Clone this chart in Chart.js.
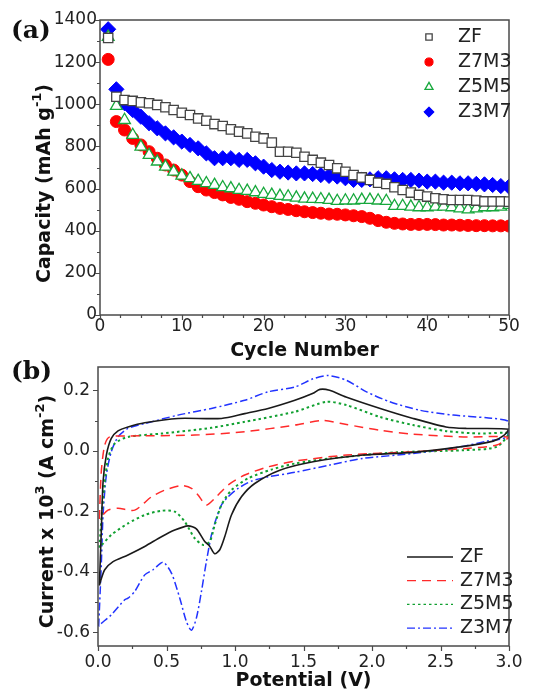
<!DOCTYPE html>
<html>
<head>
<meta charset="utf-8">
<title>Capacity and CV curves</title>
<script src="https://cdn.jsdelivr.net/npm/chart.js@4.4.1/dist/chart.umd.min.js"></script>
<style>
  html, body { margin: 0; padding: 0; background: #fff; }
  #wrap { position: relative; width: 533px; height: 693px; overflow: hidden; }
  canvas { position: absolute; left: 0; }
  #capacityChart { top: 0; }
  #cvChart { top: 355px; }
</style>
</head>
<body>
<div id="wrap">
  <canvas id="capacityChart" width="533" height="365"></canvas>
  <canvas id="cvChart" width="533" height="338"></canvas>
</div>
<script>
// ---- (a) discharge capacity vs cycle number ----
const cycles = [
  1, 2, 3, 4, 5, 6, 7, 8, 9, 10, 11, 12, 13, 14, 15, 16, 17, 18, 19, 20,
  21, 22, 23, 24, 25, 26, 27, 28, 29, 30, 31, 32, 33, 34, 35, 36, 37, 38, 39, 40,
  41, 42, 43, 44, 45, 46, 47, 48, 49, 50,
];
const zfCapacity = [
  1315, 1036, 1020, 1016, 1009, 1005, 997, 986, 973, 960,
  949, 933, 922, 906, 897, 881, 870, 862, 846, 838,
  818, 775, 775, 770, 751, 736, 723, 712, 696, 680,
  664, 653, 641, 628, 622, 606, 593, 581, 570, 562,
  554, 549, 546, 546, 546, 543, 539, 539, 539, 538,
];
const z7m3Capacity = [
  1213, 918, 878, 838, 807, 775, 744, 712, 688, 664,
  633, 609, 593, 581, 570, 558, 549, 538, 530, 522,
  514, 506, 501, 495, 490, 486, 483, 479, 478, 475,
  471, 467, 459, 448, 440, 435, 432, 430, 430, 430,
  429, 427, 427, 426, 425, 424, 424, 423, 423, 422,
];
const z5m5Capacity = [
  1320, 992, 925, 854, 799, 759, 728, 704, 680, 661,
  649, 636, 625, 617, 606, 601, 593, 589, 582, 574,
  570, 565, 562, 557, 552, 551, 549, 546, 541, 543,
  543, 546, 546, 543, 541, 517, 517, 514, 511, 511,
  514, 514, 511, 506, 501, 506, 511, 511, 514, 522,
];
const z3m7Capacity = [
  1356, 1071, 1005, 973, 941, 910, 886, 862, 843, 823,
  807, 791, 767, 744, 744, 744, 736, 736, 720, 704,
  688, 680, 676, 672, 672, 669, 664, 660, 657, 649,
  641, 641, 644, 649, 649, 644, 641, 641, 638, 633,
  633, 628, 628, 625, 625, 622, 620, 617, 612, 609,
];

// ---- (b) cyclic voltammograms: potential (V) and current, one closed loop each ----
const zfPotential = [
  0.01, 0.024, 0.037, 0.061, 0.097, 0.146, 0.219, 0.341, 0.584, 0.901, 1.071, 1.242,
  1.437, 1.57, 1.62, 1.69, 1.81, 2.06, 2.3, 2.54, 2.69, 3.0,
  2.96, 2.885, 2.642, 2.3, 1.936, 1.57, 1.327, 1.144, 1.047, 0.974, 0.925, 0.889,
  0.852, 0.815, 0.779, 0.718, 0.657, 0.56, 0.463, 0.341, 0.219, 0.11, 0.049, 0.019, 0.01,
];
const zfCurrent = [
  -0.445, -0.267, -0.102, -0.014, 0.041, 0.066, 0.079, 0.093, 0.107, 0.107, 0.123, 0.14,
  0.167, 0.19, 0.203, 0.2, 0.178, 0.14, 0.107, 0.079, 0.074, 0.071,
  0.05, 0.032, 0.013, -0.005, -0.014, -0.036, -0.064, -0.108, -0.152, -0.212, -0.284, -0.327,
  -0.34, -0.315, -0.3, -0.258, -0.248, -0.262, -0.284, -0.316, -0.344, -0.366, -0.393, -0.43, -0.445,
];
const z7m3Potential = [
  0.01, 0.024, 0.049, 0.085, 0.219, 0.706, 1.071, 1.437, 1.643, 1.814, 2.057, 2.3, 2.666, 3.0,
  2.91, 2.69, 2.3, 1.814, 1.437, 1.242, 1.071, 0.95, 0.852, 0.791, 0.73, 0.682, 0.609,
  0.487, 0.39, 0.268, 0.146, 0.073, 0.01,
];
const z7m3Current = [
  -0.225, -0.069, 0.019, 0.046, 0.049, 0.052, 0.063, 0.085, 0.1, 0.087, 0.068, 0.055, 0.046, 0.045,
  0.019, 0.008, -0.003, -0.014, -0.034, -0.053, -0.08, -0.113, -0.157, -0.179, -0.146, -0.124, -0.115,
  -0.13, -0.152, -0.196, -0.19, -0.196, -0.225,
];
const z5m5Potential = [
  0.01, 0.037, 0.073, 0.122, 0.219, 0.463, 0.828, 1.071, 1.437, 1.668, 1.814, 2.057, 2.3, 2.544,
  2.788, 3.0, 2.91, 2.666, 2.18, 1.692, 1.437, 1.266, 1.096, 0.974, 0.901, 0.852, 0.816, 0.767,
  0.706, 0.633, 0.56, 0.463, 0.341, 0.219, 0.097, 0.01,
];
const z5m5Current = [
  -0.32, -0.157, -0.025, 0.024, 0.046, 0.057, 0.076, 0.096, 0.129, 0.162, 0.151, 0.112, 0.085, 0.065,
  0.057, 0.057, 0.013, 0.002, -0.005, -0.025, -0.042, -0.062, -0.091, -0.13, -0.179, -0.245, -0.3, -0.311,
  -0.289, -0.234, -0.201, -0.198, -0.212, -0.24, -0.278, -0.32,
];
const z3m7Potential = [
  0.005, 0.024, 0.037, 0.061, 0.097, 0.146, 0.219, 0.341, 0.584, 0.828, 1.071, 1.242, 1.437,
  1.57, 1.68, 1.814, 1.96, 2.13, 2.35, 2.593, 2.837, 3.0,
  2.983, 2.837, 2.642, 2.3, 1.936, 1.692, 1.437, 1.242, 1.12, 1.023, 0.95, 0.901, 0.864,
  0.828, 0.791, 0.755, 0.718, 0.682, 0.645, 0.597, 0.536, 0.475, 0.402, 0.341, 0.268, 0.219,
  0.195, 0.097, 0.012, 0.005,
];
const z3m7Current = [
  -0.58, -0.377, -0.212, -0.08, -0.003, 0.046, 0.074, 0.09, 0.118, 0.14, 0.167, 0.195, 0.211,
  0.238, 0.249, 0.233, 0.195, 0.162, 0.134, 0.118, 0.109, 0.096,
  0.046, 0.032, 0.013, -0.009, -0.025, -0.047, -0.071, -0.086, -0.1, -0.124, -0.152, -0.179, -0.223,
  -0.278, -0.366, -0.465, -0.553, -0.593, -0.564, -0.487, -0.404, -0.368, -0.393, -0.41, -0.465, -0.487,
  -0.492, -0.542, -0.575, -0.58,
];

const SANS = "'DejaVu Sans', 'Liberation Sans', sans-serif";
const SERIF = "'DejaVu Serif', 'Liberation Serif', serif";
const INK = "#222";
const FRAME = "#4a4a4a";

function toPoints(xs, ys) {
  return xs.map((x, i) => ({ x: x, y: ys[i] }));
}

// Box around the plot area plus outward major/minor ticks on bottom and left
const frameTicks = {
  id: "frameTicks",
  afterDatasetsDraw(chart, args, opts) {
    const { ctx, chartArea: a, scales } = chart;
    ctx.save();
    ctx.strokeStyle = FRAME;
    ctx.lineWidth = 1.5;
    ctx.strokeRect(a.left, a.top, a.right - a.left, a.bottom - a.top);
    ctx.beginPath();
    tickMarks(scales.x, opts.minorX).forEach(([v, major]) => {
      const px = Math.round(scales.x.getPixelForValue(v)) + 0.5;
      ctx.moveTo(px, a.bottom);
      ctx.lineTo(px, a.bottom + (major ? 5 : 3));
    });
    tickMarks(scales.y, opts.minorY).forEach(([v, major]) => {
      const py = Math.round(scales.y.getPixelForValue(v)) + 0.5;
      ctx.moveTo(a.left, py);
      ctx.lineTo(a.left - (major ? 5 : 3), py);
    });
    ctx.lineWidth = 1.2;
    ctx.stroke();
    ctx.restore();
  },
};

function tickMarks(scale, minorStep) {
  const majorStep = scale.options.ticks.stepSize;
  const out = [];
  const k0 = Math.ceil(scale.min / minorStep - 1e-6);
  const k1 = Math.floor(scale.max / minorStep + 1e-6);
  for (let k = k0; k <= k1; k++) {
    const v = k * minorStep;
    const r = v / majorStep;
    out.push([v, Math.abs(r - Math.round(r)) < 1e-6]);
  }
  return out;
}

// Legend drawn inside the plot area (markers or line samples)
const insetLegend = {
  id: "insetLegend",
  afterDraw(chart, args, opts) {
    const { ctx, chartArea: a } = chart;
    ctx.save();
    chart.data.datasets.forEach((ds, i) => {
      const y = a.top + opts.top + i * opts.rowHeight;
      if (opts.kind === "marker") {
        ctx.fillStyle = ds.pointBackgroundColor;
        ctx.strokeStyle = ds.pointBorderColor;
        ctx.lineWidth = ds.pointBorderWidth;
        Chart.helpers.drawPoint(
          ctx,
          {
            pointStyle: ds.pointStyle,
            radius: ds.pointRadius * opts.markerScale,
            borderWidth: ds.pointBorderWidth,
            rotation: 0,
          },
          a.right - opts.sampleRight,
          y
        );
      } else {
        ctx.strokeStyle = ds.borderColor;
        ctx.lineWidth = 1.3;
        ctx.setLineDash(ds.borderDash || []);
        ctx.beginPath();
        ctx.moveTo(a.right - opts.sampleRight, y);
        ctx.lineTo(a.right - opts.sampleRight + opts.sampleLength, y);
        ctx.stroke();
        ctx.setLineDash([]);
      }
      ctx.fillStyle = INK;
      ctx.font = `19px ${SANS}`;
      ctx.textAlign = "left";
      ctx.textBaseline = "middle";
      ctx.fillText(ds.label, a.right - opts.textRight, y);
    });
    ctx.restore();
  },
};

// Rotated y-axis caption with superscripts, and the panel tag
const panelText = {
  id: "panelText",
  afterDraw(chart, args, opts) {
    const { ctx, chartArea: a } = chart;
    const base = `bold 19px ${SANS}`;
    const sup = `bold 13px ${SANS}`;
    ctx.save();
    ctx.fillStyle = "#111";
    ctx.textBaseline = "middle";
    ctx.textAlign = "left";
    let total = 0;
    opts.caption.forEach((p) => {
      ctx.font = p.sup ? sup : base;
      total += ctx.measureText(p.text).width;
    });
    ctx.translate(opts.captionX, (a.top + a.bottom) / 2 + opts.captionShift);
    ctx.rotate(-Math.PI / 2);
    let cx = -total / 2;
    opts.caption.forEach((p) => {
      ctx.font = p.sup ? sup : base;
      ctx.fillText(p.text, cx, p.sup ? -7 : 0);
      cx += ctx.measureText(p.text).width;
    });
    ctx.restore();

    ctx.save();
    ctx.fillStyle = "#111";
    ctx.font = `bold 25px ${SERIF}`;
    ctx.textBaseline = "alphabetic";
    ctx.fillText(opts.tag, opts.tagX, opts.tagY);
    ctx.restore();
  },
};

function fixedAxis(size, vertical) {
  return function (scale) {
    if (vertical) {
      scale.width = size;
      scale.paddingTop = 0;
      scale.paddingBottom = 0;
    } else {
      scale.height = size;
      scale.paddingLeft = 0;
      scale.paddingRight = 0;
    }
  };
}

const tickFont = { family: SANS, size: 17 };
const titleFont = { family: SANS, size: 19, weight: "bold" };

function createCapacityChart(canvasId) {
  const ctx = document.getElementById(canvasId);
  const series = [
    { label: "ZF", data: zfCapacity, style: "rect", r: 6.6, fill: "#fff", line: "#444", bw: 1.3, order: 0 },
    { label: "Z7M3", data: z7m3Capacity, style: "circle", r: 6, fill: "#ff0000", line: "#ff0000", bw: 1, order: 2 },
    { label: "Z5M5", data: z5m5Capacity, style: "triangle", r: 6.8, fill: "#fff", line: "#17a83c", bw: 1.3, order: 1 },
    { label: "Z3M7", data: z3m7Capacity, style: "rectRot", r: 7.6, fill: "#0000ff", line: "#0000ff", bw: 1, order: 3 },
  ];

  return new Chart(ctx, {
    type: "scatter",
    data: {
      datasets: series.map((s) => ({
        label: s.label,
        data: toPoints(cycles, s.data),
        pointStyle: s.style,
        pointRadius: s.r,
        pointHoverRadius: s.r,
        pointBackgroundColor: s.fill,
        pointBorderColor: s.line,
        pointBorderWidth: s.bw,
        order: s.order,
        clip: 0,
      })),
    },
    options: {
      responsive: false,
      animation: false,
      devicePixelRatio: 1,
      layout: { padding: { top: 20, right: 24, left: 0, bottom: 0 } },
      plugins: {
        legend: { display: false },
        tooltip: { enabled: false },
        frameTicks: { minorX: 2.5, minorY: 100 },
        insetLegend: { kind: "marker", top: 17, rowHeight: 25, sampleRight: 80, textRight: 51, markerScale: 0.68 },
        panelText: {
          caption: [{ text: "Capacity (mAh g" }, { text: "-1", sup: true }, { text: ")" }],
          captionX: 45,
          captionShift: 16,
          tag: "(a)",
          tagX: 11,
          tagY: 38,
        },
      },
      scales: {
        x: {
          type: "linear",
          min: 0,
          max: 50,
          grid: { display: false, drawTicks: false },
          border: { display: false },
          ticks: { stepSize: 10, font: tickFont, color: INK, padding: 1, maxRotation: 0, callback: (v) => String(v) },
          title: { display: true, text: "Cycle Number", font: titleFont, color: "#111", padding: { top: 0, bottom: 3 } },
          afterFit: fixedAxis(50, false),
        },
        y: {
          min: 0,
          max: 1400,
          grid: { display: false, drawTicks: false },
          border: { display: false },
          ticks: { stepSize: 200, font: tickFont, color: INK, padding: 3, callback: (v) => String(v) },
          afterFit: fixedAxis(100, true),
        },
      },
    },
    plugins: [frameTicks, insetLegend, panelText],
  });
}

function createCvChart(canvasId) {
  const ctx = document.getElementById(canvasId);
  const series = [
    { label: "ZF", x: zfPotential, y: zfCurrent, color: "#1a1a1a", dash: [], width: 1.6 },
    { label: "Z7M3", x: z7m3Potential, y: z7m3Current, color: "#ff2a2a", dash: [9, 6], width: 1.5 },
    { label: "Z5M5", x: z5m5Potential, y: z5m5Current, color: "#10a030", dash: [2.5, 3], width: 2 },
    { label: "Z3M7", x: z3m7Potential, y: z3m7Current, color: "#2233ff", dash: [8, 3, 2, 3], width: 1.5 },
  ];

  return new Chart(ctx, {
    type: "scatter",
    data: {
      datasets: series.map((s) => ({
        label: s.label,
        data: toPoints(s.x, s.y),
        showLine: true,
        borderColor: s.color,
        borderDash: s.dash,
        borderWidth: s.width,
        pointRadius: 0,
        pointHoverRadius: 0,
        tension: 0.25,
        fill: false,
        clip: 0,
      })),
    },
    options: {
      responsive: false,
      animation: false,
      devicePixelRatio: 1,
      layout: { padding: { top: 12, right: 24, left: 0, bottom: 0 } },
      plugins: {
        legend: { display: false },
        tooltip: { enabled: false },
        frameTicks: { minorX: 0.25, minorY: 0.1 },
        insetLegend: { kind: "line", top: 190, rowHeight: 23.7, sampleRight: 102, sampleLength: 46, textRight: 49 },
        panelText: {
          caption: [
            { text: "Current x 10" },
            { text: "3", sup: true },
            { text: " (A cm" },
            { text: "-2", sup: true },
            { text: ")" },
          ],
          captionX: 48,
          captionShift: 5,
          tag: "(b)",
          tagX: 11,
          tagY: 24,
        },
      },
      scales: {
        x: {
          type: "linear",
          min: 0,
          max: 3,
          grid: { display: false, drawTicks: false },
          border: { display: false },
          ticks: {
            stepSize: 0.5,
            font: tickFont,
            color: INK,
            padding: 6,
            maxRotation: 0,
            callback: (v) => v.toFixed(1),
          },
          title: { display: true, text: "Potential (V)", font: titleFont, color: "#111", padding: { top: 0, bottom: 1 } },
          afterFit: fixedAxis(47, false),
        },
        y: {
          min: -0.645,
          max: 0.277,
          grid: { display: false, drawTicks: false },
          border: { display: false },
          ticks: {
            stepSize: 0.2,
            includeBounds: false,
            font: tickFont,
            color: INK,
            padding: 8,
            callback: (v) => v.toFixed(1),
          },
          afterFit: fixedAxis(98, true),
        },
      },
    },
    plugins: [frameTicks, insetLegend, panelText],
  });
}

createCapacityChart("capacityChart");
createCvChart("cvChart");
</script>
</body>
</html>
